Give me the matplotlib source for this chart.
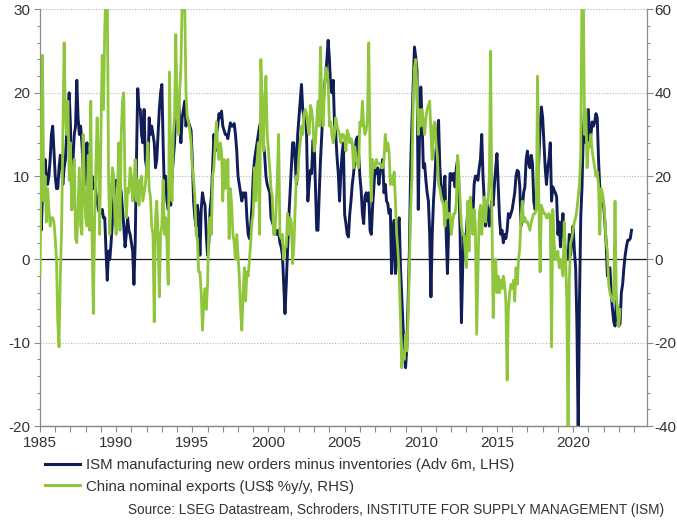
import matplotlib
matplotlib.use("Agg")
import matplotlib.pyplot as plt
from matplotlib.ticker import MultipleLocator
from matplotlib.lines import Line2D

plt.rcParams['font.family'] = ['Liberation Sans', 'DejaVu Sans']
plt.rcParams['axes.unicode_minus'] = False

# ISM manufacturing new orders minus inventories (Adv 6m, LHS), monthly from Jan 1985
ism = {
    1985: [6, 3.5, 8, 10, 12, 10, 9, 10, 12, 15, 16, 13],
    1986: [10, 8.5, 8.5, 11, 12.5, 11.5, 9, 11, 12, 15, 18, 20],
    1987: [16, 6, 12, 15, 16, 21.5, 17, 15, 16, 14, 11, 9],
    1988: [12, 14, 8, 7.5, 9, 10, 8.5, 9, 8, 7, 6, 5.5],
    1989: [5.5, 6, 5, 5, 1, -2.5, 1, 0, 2, 4.5, 7, 9],
    1990: [9.5, 9, 8.5, 9, 8, 6, 4, 1.5, 3, 5, 3.5, 3],
    1991: [2, 1, -3, 2, 12, 20.5, 18, 18, 15, 14, 18, 12],
    1992: [11, 10, 17, 15, 16, 15, 14, 11, 12, 15, 18, 20],
    1993: [21, 14, 8, 10, 7, 6, 8, 6.5, 10, 12, 14, 18],
    1994: [19, 19.5, 17, 14, 17, 18, 19, 16, 17, 16.5, 16, 15.5],
    1995: [12, 7, 5, 4, 6.5, 5, 0.5, 6, 8, 7, 6.5, 3],
    1996: [0.5, 2, 6, 7.5, 11, 15, 13, 15, 16, 17.5, 17, 17.8],
    1997: [16, 15.5, 15, 15, 14.5, 15.5, 16.4, 16, 16, 16.3, 15, 13],
    1998: [10, 9, 8, 7, 8, 7.5, 8, 5, 3, 2.5, 4, 6.5],
    1999: [10, 12, 13, 14, 15, 16, 16.5, 15, 14, 12.5, 10, 9],
    2000: [8.5, 8, 5, 4.5, 4, 3, 3.5, 3, 3.5, 2, 1.5, 0.5],
    2001: [-3, -6.5, -3, 1, 5, 8, 11, 14, 14, 12, 9, 15],
    2002: [17, 19, 21, 18, 17, 17.5, 15, 7, 9, 10.7, 10.3, 14.3],
    2003: [14, 8.7, 3.5, 3.5, 8, 12, 15, 18.3, 20.7, 22, 24, 26.3],
    2004: [24, 20.7, 20, 21.5, 16.3, 15, 12.3, 10.3, 7, 10.3, 12.7, 14],
    2005: [5.4, 4.3, 3, 2.7, 5.4, 7, 9, 10.3, 12, 14.3, 14.7, 12.7],
    2006: [10, 8.3, 5.5, 4.3, 7.5, 8, 7, 8, 3.5, 3, 6.3, 8.7],
    2007: [11, 10.3, 11, 9, 10.5, 11, 12, 8, 9, 7, 6.7, 5.5],
    2008: [6, -1.7, 3, 4.7, -1.7, 0, 4, 5, -1, -4.5, -8, -11],
    2009: [-13, -10.5, -5, 1, 11, 16.3, 21, 25.5, 24.3, 22.7, 6, 15],
    2010: [20.7, 16.7, 11, 11.5, 9.5, 8, 7, 3, -4.5, 3, 7, 9.5],
    2011: [13, 15, 16.7, 11, 8.7, 7, 8, 10, 3, -1.7, 4, 10.3],
    2012: [10.3, 9.5, 10.3, 8.7, 11, 12, 8.7, 3, -7.6, -1, 3, 0.5],
    2013: [3.5, 6, 6, 5, 7, 5, 9, 10, 10, 9.5, 11, 12],
    2014: [15, 10, 7, 4, 7, 5.5, 4, 6, 7, 6.5, 9, 11],
    2015: [12.7, 9, 5, 3, 3.5, 2, 3, 2.5, 3.5, 5.5, 5, 5.5],
    2016: [6, 7, 8, 10, 10.7, 10.5, 8.7, 4, 6, 8, 8.7, 12],
    2017: [13, 11.5, 11, 12.5, 11.5, 7, 6, 6.5, 9, 12, 16, 18.3],
    2018: [17, 14, 11, 9, 11, 12, 14, 7, 8.7, 8.3, 8, 7.5],
    2019: [3, 4.5, 1.5, 4, 5.5, 2.3, 0.7, 1, 0, 3, 0.5, 2.5],
    2020: [4, 1, -1, -8, -21, -5, 5, 8.7, 15, 18, 14, 16],
    2021: [18, 14, 15, 16.5, 16, 16.5, 17.5, 17, 12, 8.7, 7, 6.5],
    2022: [6.5, 4.5, 2, -2, -1, -1, -4, -6, -7.5, -8, -5, -6.5],
    2023: [-8, -7.7, -4, -3, -1, 0.5, 1.5, 2.3, 2.3, 2.5, 3.5],
}

# China nominal exports (US$ %y/y, RHS), monthly from Jan 1985
china = {
    1985: [-4, 25, 49, 14, 20, 9, 17, 12, 8, 10, 10, 9],
    1986: [5, 0, -15, -21, -4, 7, 30, 52, 35, 30, 38, 19],
    1987: [28, 12, 20, 24, 5, 4, 13, 22, 8, 6, 30, 17],
    1988: [10, 8, 25, 7, 38, 5, -13, 8, 22, 34, 24, 6],
    1989: [30, 49, 36, 55, 66, 64, 20, 6, 15, 22, 20, 10],
    1990: [6, 15, 28, 7, 30, 38, 40, 17, 10, 17, 16, 22],
    1991: [20, 14, 18, 24, 14, 19, 13, 19, 20, 14, 16, 18],
    1992: [22, 28, 17, 15, 8, 6, -15, 10, 14, 6, -9, 6],
    1993: [8, 19, 6, 10, 4, -6, 45, 22, 14, 30, 34, 54],
    1994: [35, 30, 40, 46, 62, 66, 62, 40, 34, 33, 31, 28],
    1995: [22, 19, 15, 6, 5, -3, -3, -8, -17, -10, -7, -12],
    1996: [-6, 8, 10, 6, 20, 22, 28, 33, 27, 24, 28, 26],
    1997: [14, 24, 17, 18, 24, 5, 17, 13, 6, 4, 0, 6],
    1998: [1, -4, -12, -17, -8, -2, -10, -3, -4, 0, 4, 9],
    1999: [11, 22, 14, 23, 28, 6, 48, 38, 26, 38, 44, 30],
    2000: [26, 22, 17, 15, 6, 6, 12, 20, 30, 6, 5, 6],
    2001: [0, 3, 3, 11, 6, 10, 9, -1, 3, 12, 20, 19],
    2002: [25, 28, 32, 30, 35, 36, 35, 32, 30, 37, 36, 33],
    2003: [26, 28, 33, 38, 32, 51, 36, 32, 40, 46, 45, 43],
    2004: [32, 33, 30, 28, 30, 34, 32, 31, 30, 28, 30, 30],
    2005: [29, 26, 31, 30, 28, 29, 28, 22, 27, 24, 23, 22],
    2006: [33, 32, 38, 32, 30, 31, 34, 52, 25, 14, 24, 22],
    2007: [22, 24, 23, 23, 23, 22, 22, 24, 30, 26, 28, 26],
    2008: [18, 20, 18, 21, 14, 6, 2, -4, -14, -26, -22, -24],
    2009: [-18, -22, -14, -2, 12, 20, 38, 46, 48, 40, 30, 36],
    2010: [32, 36, 33, 30, 34, 36, 37, 38, 30, 24, 32, 33],
    2011: [28, 25, 18, 17, 15, 14, 13, 8, 14, 10, 11, 11],
    2012: [6, 9, 11, 11, 14, 25, 20, 14, 8, 6, 6, 2],
    2013: [-2, 14, 2, 15, 11, 6, 12, 8, -18, -3, 11, 13],
    2014: [6, 11, 15, 9, 14, 14, 20, 50, 11, -14, -1, 0],
    2015: [-8, -4, -8, -5, -7, -4, -6, -10, -29, -12, -8, -6],
    2016: [-7, -5, -10, -2, -6, 0, 3, 10, 14, 9, 10, 9],
    2017: [9, 8, 7, 9, 10, 11, 11, 12, 44, 14, -3, 13],
    2018: [12, 11, 11, 10, 10, 11, 10, -21, 12, 4, 0, 0],
    2019: [2, -2, 0, -2, -4, 9, 2, -10, -42, -5, 4, 5],
    2020: [7, 9, 10, 12, 15, 18, 25, 66, 66, 30, 36, 22],
    2021: [28, 27, 30, 26, 24, 22, 20, 21, 18, 6, 17, 16],
    2022: [14, 10, 4, 2, -6, -8, -9, -10, -10, 14, -8, -13],
    2023: [-16, -12],
}

x_ticks = [1985, 1990, 1995, 2000, 2005, 2010, 2015, 2020]
label_ism = "ISM manufacturing new orders minus inventories (Adv 6m, LHS)"
label_china = "China nominal exports (US$ %y/y, RHS)"
source = "Source: LSEG Datastream, Schroders, INSTITUTE FOR SUPPLY MANAGEMENT (ISM)"

NAVY = '#111d57'
GREEN = '#8fc63c'
TXT = '#333333'
SPINE = '#8c8c8c'


def flatten(d):
    xs, ys = [], []
    for yr in sorted(d):
        for m, v in enumerate(d[yr]):
            xs.append(yr + m / 12.0)
            ys.append(v)
    return xs, ys


x1, y1 = flatten(ism)
x2, y2 = flatten(china)

fig = plt.figure(figsize=(6.77, 5.20), dpi=100)
W, H = 677.0, 520.0
ax = fig.add_axes([40 / W, 1 - 426 / H, 607 / W, 416.5 / H])
ax2 = ax.twinx()

ax.set_xlim(1985, 2024.85)
ax.set_ylim(-20, 30)
ax2.set_ylim(-40, 60)

ax.yaxis.set_major_locator(MultipleLocator(10))
ax.yaxis.set_minor_locator(MultipleLocator(2))
ax2.yaxis.set_major_locator(MultipleLocator(20))
ax2.yaxis.set_minor_locator(MultipleLocator(4))
ax.set_xticks(x_ticks)
ax.xaxis.set_minor_locator(MultipleLocator(1))

ax.grid(axis='y', which='major', linestyle=(0, (1, 1.5)), color='#b5b5b5', linewidth=0.8)
ax.set_axisbelow(True)
ax.axhline(0, color='#1a1a1a', linewidth=0.9, zorder=1.5)

ax.plot(x1, y1, color=NAVY, linewidth=2.1, zorder=2, solid_joinstyle='round')
ax2.plot(x2, y2, color=GREEN, linewidth=2.0, zorder=2, solid_joinstyle='round')

for a in (ax, ax2):
    a.spines['top'].set_visible(False)
    for s in ('left', 'right', 'bottom'):
        a.spines[s].set_color(SPINE)
        a.spines[s].set_linewidth(0.9)
ax.spines['right'].set_visible(False)
ax2.spines['left'].set_visible(False)

ax.tick_params(axis='y', which='major', direction='out', length=4, width=0.8,
               color=SPINE, labelsize=11, labelcolor=TXT, pad=3)
ax.tick_params(axis='y', which='minor', direction='out', length=2.5, width=0.8, color=SPINE)
ax2.tick_params(axis='y', which='major', direction='out', length=4, width=0.8,
                color=SPINE, labelsize=11, labelcolor=TXT, pad=1.5)
ax2.tick_params(axis='y', which='minor', direction='out', length=2.5, width=0.8, color=SPINE)
ax.tick_params(axis='x', which='major', direction='out', length=4, width=0.8,
               color=SPINE, labelsize=11, labelcolor=TXT, pad=3)
ax.tick_params(axis='x', which='minor', direction='out', length=4, width=0.8, color=SPINE)

handles = [Line2D([], [], color=NAVY, linewidth=2.2),
           Line2D([], [], color=GREEN, linewidth=2.2)]
fig.legend(handles, [label_ism, label_china], loc='upper left',
           bbox_to_anchor=(45 / W, 1 - 458 / H), frameon=False,
           fontsize=10.8, handlelength=2.3, handletextpad=0.4,
           labelspacing=0.5, borderaxespad=0, borderpad=0, labelcolor=TXT)

fig.text(664 / W, 1 - 510 / H, source, ha='right', va='center',
         fontsize=9.8, color=TXT)

fig.savefig('out.png', dpi=100)
